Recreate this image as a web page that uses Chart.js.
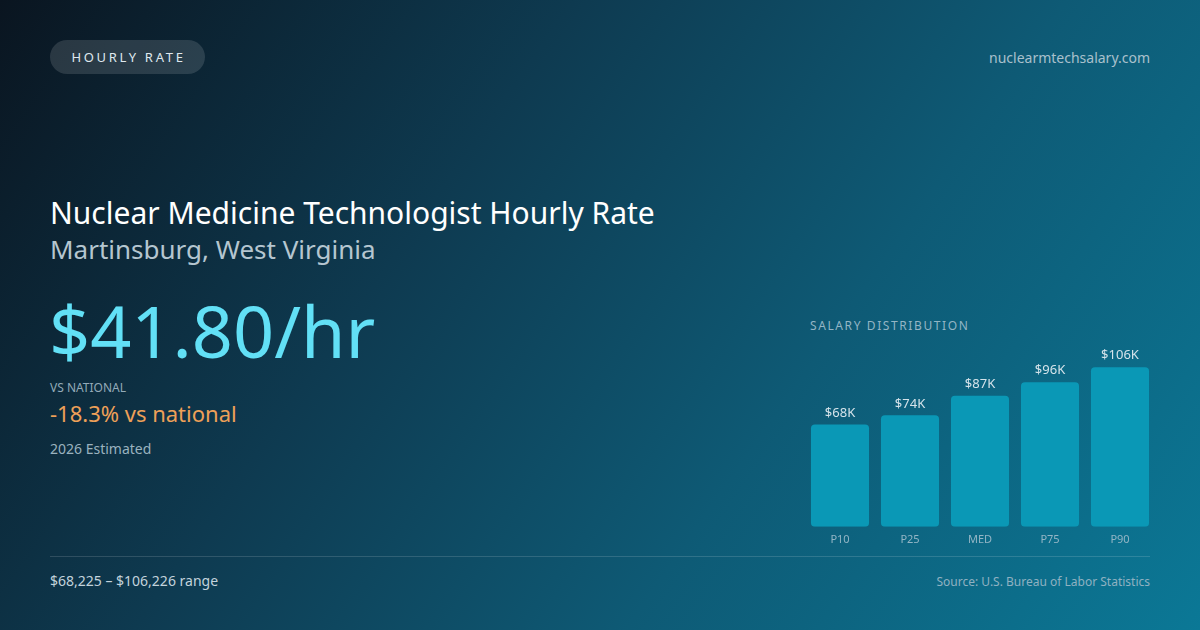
<!DOCTYPE html>
<html>
<head>
<meta charset="utf-8">
<script src="https://cdn.jsdelivr.net/npm/chart.js@4.4.1/dist/chart.umd.min.js"></script>
<style>
  html, body { margin: 0; padding: 0; }
  body {
    width: 1200px; height: 630px; overflow: hidden; position: relative;
    font-family: "Noto Sans", "Open Sans", sans-serif;
    background: linear-gradient(125deg, #0a1520 0%, #0e3a50 35%, #0e5a75 65%, #0b7896 100%);
    color: #fff;
  }
  .abs { position: absolute; white-space: nowrap; }
  .pill {
    left: 50px; top: 40px; width: 155px; height: 34px; border-radius: 17px;
    background: rgba(255,255,255,0.13); color: #dfe8ee;
    font-size: 13px; letter-spacing: 2.7px; line-height: 34px; text-align: center;
    text-indent: 2px;
  }
  .site { right: 50px; top: 48px; font-size: 14px; color: #a9c0cc; }
  .title { left: 50px; top: 192px; font-size: 30px; color: #ffffff; }
  .sub { left: 50px; top: 231px; font-size: 26px; color: #b5c6d0; }
  .big { left: 49px; top: 280px; font-size: 72px; color: #62e0f6; line-height: 100px; }
  .vsl { left: 50px; top: 379px; font-size: 12px; color: #93aab8; }
  .vs { left: 50px; top: 398px; font-size: 22px; color: #eea058; }
  .est { left: 50px; top: 439px; font-size: 14px; color: #9ab2bf; }
  .rule { left: 50px; top: 556px; width: 1100px; height: 1px; background: rgba(255,255,255,0.14); }
  .range { left: 50px; top: 571px; font-size: 14px; color: #c3d3dc; }
  .src { right: 50px; top: 573px; font-size: 12px; color: #8fb1c1; }
  .dist { left: 810px; top: 317px; font-size: 12px; letter-spacing: 1.6px; color: #93b5c5; }
  #box { position: absolute; left: 805px; top: 322px; width: 350px; height: 222px; }
</style>
</head>
<body>
<div class="abs pill">HOURLY RATE</div>
<div class="abs site">nuclearmtechsalary.com</div>
<div class="abs title">Nuclear Medicine Technologist Hourly Rate</div>
<div class="abs sub">Martinsburg, West Virginia</div>
<div class="abs big">$41.80/hr</div>
<div class="abs vsl">VS NATIONAL</div>
<div class="abs vs">-18.3% vs national</div>
<div class="abs est">2026 Estimated</div>
<div class="abs dist">SALARY DISTRIBUTION</div>
<div id="box"><canvas id="chart"></canvas></div>
<div class="abs rule"></div>
<div class="abs range">$68,225 – $106,226 range</div>
<div class="abs src">Source: U.S. Bureau of Labor Statistics</div>

<script>
const percentiles = ['P10', 'P25', 'MED', 'P75', 'P90'];
const salaryK = [68, 74, 87, 96, 106];
const valueLabels = ['$68K', '$74K', '$87K', '$96K', '$106K'];

// value text over each bar
const topLabels = {
  id: 'topLabels',
  afterDatasetsDraw(chart) {
    const { ctx } = chart;
    const meta = chart.getDatasetMeta(0);
    ctx.save();
    ctx.font = '13px "Noto Sans", sans-serif';
    ctx.fillStyle = '#d5e3ea';
    ctx.textAlign = 'center';
    ctx.textBaseline = 'bottom';
    meta.data.forEach((bar, i) => {
      ctx.fillText(valueLabels[i], bar.x, bar.y - 5);
    });
    ctx.restore();
  }
};

new Chart(document.getElementById('chart'), {
  type: 'bar',
  data: {
    labels: percentiles,
    datasets: [{
      data: salaryK,
      backgroundColor: '#0a98b6',
      borderRadius: 4,
      borderSkipped: false,
      barPercentage: 0.83,
      categoryPercentage: 1
    }]
  },
  options: {
    responsive: true,
    maintainAspectRatio: false,
    animation: false,
    layout: { padding: 0 },
    plugins: { legend: { display: false }, tooltip: { enabled: false } },
    scales: {
      x: {
        grid: { display: false },
        border: { display: false },
        ticks: { color: '#93b5c5', font: { size: 11, family: 'Noto Sans' }, padding: -2 }
      },
      y: { display: false, min: 0, max: 136 }
    }
  },
  plugins: [topLabels]
});
</script>
</body>
</html>
